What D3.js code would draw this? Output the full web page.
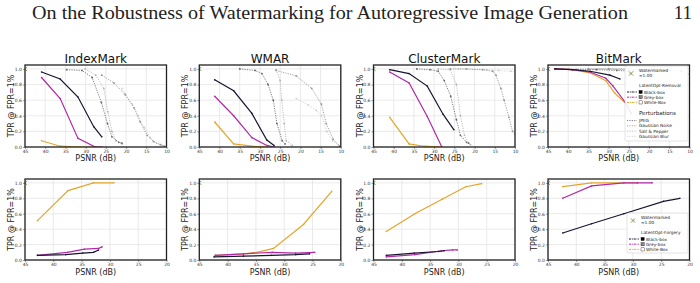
<!DOCTYPE html>
<html>
<head>
<meta charset="utf-8">
<script src="https://cdn.jsdelivr.net/npm/d3@7"></script>
<style>
  body { margin: 0; background: #fff; }
  text { font-family: "DejaVu Sans", sans-serif; }
</style>
</head>
<body>
<svg id="chart" width="700" height="283"></svg>
<script>
// ---- data ----
const titles = ['IndexMark', 'WMAR', 'ClusterMark', 'BitMark'];
const xTicksTop = [45, 40, 35, 30, 25, 20, 15, 10];
const xTicksBottom = [45, 40, 35, 30, 25, 20];
const yTicks = [0, 0.2, 0.4, 0.6, 0.8, 1.0];
const watermarked = [45, 1.0];

// LatentOpt-Removal (top row), [PSNR, TPR]
const removalBlack = [
  [[40.9, 0.96], [36.3, 0.87], [31.9, 0.64], [28.0, 0.26], [26.0, 0.13]],
  [[41.2, 0.86], [36.5, 0.72], [32.0, 0.43], [28.3, 0.09], [26.5, 0.02]],
  [[41.0, 0.99], [36.2, 0.94], [31.7, 0.78], [27.8, 0.42], [25.1, 0.22]],
  [[43.3, 1.0], [39.0, 0.99], [34.6, 0.97], [29.7, 0.92], [27.2, 0.87]]
];
const removalGrey = [
  [[40.9, 0.89], [36.3, 0.62], [31.9, 0.11], [27.6, 0.0], [26.0, 0.0]],
  [[41.2, 0.65], [36.5, 0.40], [32.0, 0.12], [28.3, 0.02], [26.5, 0.0]],
  [[41.0, 0.96], [36.2, 0.82], [31.7, 0.39], [28.1, 0.0]],
  [[43.3, 1.0], [39.0, 0.99], [34.6, 0.96], [30.7, 0.88], [28.9, 0.78], [26.0, 0.58], [24.4, 0.43]]
];
const removalWhite = [
  [[40.9, 0.08], [36.3, 0.01], [31.9, 0.0], [28.0, 0.0], [26.5, 0.0]],
  [[41.2, 0.32], [36.5, 0.04], [32.0, 0.01], [28.3, 0.0]],
  [[41.0, 0.38], [36.2, 0.04], [32.5, 0.01], [28.1, 0.0]],
  [[43.3, 1.0], [39.0, 0.99], [34.6, 0.95], [30.7, 0.85], [28.5, 0.69], [26.0, 0.57]]
];

// Perturbations (top row)
const pertJpeg = [
  [[34.7, 0.99], [30.9, 0.98], [28.4, 0.89], [26.1, 0.57], [24.6, 0.3], [23.5, 0.13], [21.8, 0.06], [21.0, 0.05]],
  [[35.0, 1.0], [31.2, 0.98], [29.5, 0.94], [28.0, 0.8], [26.7, 0.6], [25.8, 0.3], [24.5, 0.08], [23.8, 0.04]],
  [[34.3, 1.0], [31.0, 0.99], [29.0, 0.97], [27.5, 0.85], [25.9, 0.65], [24.5, 0.35], [23.5, 0.15], [22.0, 0.06], [21.5, 0.05]],
  [[43.0, 1.0], [38.0, 0.99], [33.0, 0.99], [28.0, 0.98], [24.0, 0.97], [20.0, 0.96]]
];
const pertNoise = [
  [[26.0, 0.92], [23.0, 0.82], [20.2, 0.67], [18.0, 0.5], [16.5, 0.32], [14.8, 0.15], [13.2, 0.07], [11.5, 0.03], [10.5, 0.01]],
  [[26.0, 0.98], [21.0, 0.91], [17.2, 0.75], [14.8, 0.55], [13.6, 0.3], [11.9, 0.1], [10.3, 0.01]],
  [[26.0, 1.0], [22.0, 1.0], [18.0, 0.99], [15.5, 0.97], [14.7, 0.92], [13.5, 0.75], [12.7, 0.6], [11.5, 0.38], [10.6, 0.2], [10.0, 0.17]],
  [[35.0, 1.0], [30.0, 1.0], [25.0, 0.99], [20.0, 0.99], [15.0, 0.98], [12.0, 0.97], [10.0, 0.93]]
];
const pertSalt = [
  [[30.1, 1.0], [27.5, 0.92], [25.5, 0.75], [24.5, 0.45], [23.5, 0.2], [22.5, 0.08], [21.0, 0.04]],
  [[26.0, 0.99], [25.0, 0.85], [24.6, 0.6], [24.0, 0.3], [23.5, 0.08], [22.0, 0.02]],
  [[29.0, 1.0], [26.0, 0.99], [24.5, 0.8], [23.5, 0.4], [22.5, 0.15], [21.5, 0.05], [21.0, 0.03]],
  [[40.0, 1.0], [35.0, 1.0], [30.0, 1.0], [25.0, 1.0], [20.0, 0.99], [15.0, 0.99]]
];
const pertBlur = [
  [[21.0, 0.75], [20.2, 0.68], [18.5, 0.55], [17.0, 0.4], [15.5, 0.25], [14.0, 0.12], [12.5, 0.05], [11.0, 0.02]],
  [[21.0, 0.62], [18.1, 0.54], [16.1, 0.47], [14.8, 0.4], [13.5, 0.2], [12.0, 0.08], [10.5, 0.02]],
  [[24.0, 1.0], [20.0, 0.99], [17.0, 0.99], [14.0, 0.98], [11.0, 0.97], [10.0, 0.96]],
  [[30.0, 1.0], [25.0, 1.0], [20.0, 1.0], [15.0, 0.99], [12.0, 0.98]]
];

// LatentOpt-Forgery (bottom row)
const forgeryBlack = [
  [[42.8, 0.06], [37.8, 0.07], [34.8, 0.09], [32.9, 0.10], [32.0, 0.13]],
  [[42.4, 0.04], [37.2, 0.05], [32.3, 0.06], [28.0, 0.07], [25.5, 0.08]],
  [[42.75, 0.06], [37.8, 0.09], [33.5, 0.11], [32.5, 0.12]],
  [[42.4, 0.35], [37.3, 0.47], [31.6, 0.60], [24.6, 0.76], [21.7, 0.80]]
];
const forgeryGrey = [
  [[42.8, 0.06], [37.5, 0.10], [34.5, 0.14], [32.0, 0.15], [31.4, 0.17]],
  [[42.2, 0.06], [37.2, 0.08], [32.1, 0.10], [28.0, 0.09], [24.6, 0.10]],
  [[42.75, 0.04], [37.7, 0.07], [33.0, 0.12], [31.0, 0.13], [30.2, 0.13]],
  [[42.4, 0.80], [37.3, 0.96], [31.6, 1.0], [29.2, 1.0], [26.6, 1.0]]
];
const forgeryWhite = [
  [[42.8, 0.51], [37.4, 0.90], [32.9, 1.0], [29.3, 1.0]],
  [[42.2, 0.06], [37.2, 0.08], [34.8, 0.10], [31.9, 0.15], [26.6, 0.46], [21.6, 0.89]],
  [[42.75, 0.37], [37.7, 0.60], [32.8, 0.79], [28.7, 0.95], [25.9, 0.99]],
  [[42.4, 0.95], [37.3, 1.0], [31.6, 1.0], [29.2, 1.0]]
];

// ---- styles ----
const cBlack = '#1a1530', cGrey = '#b02aa8', cWhite = '#e5a52a', cMark = '#6b8a2a';
const pertStyles = [
  { name: 'JPEG', color: '#666' },
  { name: 'Gaussian Noise', color: '#939393' },
  { name: 'Salt & Pepper', color: '#b5b5b5' },
  { name: 'Gaussian Blur', color: '#d0d0d0' }
];

const svg = d3.select('#chart');

// header
svg.append('text')
  .attr('x', 32).attr('y', 19)
  .attr('textLength', 596).attr('lengthAdjust', 'spacingAndGlyphs')
  .style('font-family', '"Liberation Serif", serif').style('font-size', '19px').style('fill', '#222')
  .text('On the Robustness of Watermarking for Autoregressive Image Generation');
svg.append('text')
  .attr('x', 692).attr('y', 19).attr('text-anchor', 'end')
  .style('font-family', '"Liberation Serif", serif').style('font-size', '19px').style('fill', '#222')
  .text('11');

const panelX = [25, 199.3, 373.5, 548];
const panelW = 141.5;
const rows = [
  { top: 65, bottom: 147, domain: [45, 10], ticks: xTicksTop, labelY: 161 },
  { top: 179, bottom: 260, domain: [45, 20], ticks: xTicksBottom, labelY: 275 }
];

function drawLine(g, x, y, pts, color, opts) {
  const line = d3.line().x(d => x(d[0])).y(d => y(d[1]));
  g.append('path').datum(pts)
    .attr('d', line).attr('fill', 'none')
    .attr('stroke', color).attr('stroke-width', opts.width)
    .attr('stroke-dasharray', opts.dash || null);
  g.selectAll(null).data(pts).enter().append('circle')
    .attr('cx', d => x(d[0])).attr('cy', d => y(d[1]))
    .attr('r', opts.r).attr('fill', color);
}

function xMark(g, cx, cy, s, color, w) {
  g.append('path')
    .attr('d', `M${cx - s},${cy - s}L${cx + s},${cy + s}M${cx - s},${cy + s}L${cx + s},${cy - s}`)
    .attr('stroke', color).attr('stroke-width', w).attr('fill', 'none');
}

rows.forEach((row, r) => {
  titles.forEach((title, i) => {
    const x = d3.scaleLinear().domain(row.domain).range([panelX[i], panelX[i] + panelW]);
    const y = d3.scaleLinear().domain([0, 1.05]).range([row.bottom, row.top]);
    const g = svg.append('g');
    const clipId = `clip-${r}-${i}`;
    svg.append('clipPath').attr('id', clipId).append('rect')
      .attr('x', panelX[i]).attr('y', row.top).attr('width', panelW).attr('height', row.bottom - row.top);

    // grid
    g.selectAll(null).data(row.ticks).enter().append('line')
      .attr('x1', d => x(d)).attr('x2', d => x(d))
      .attr('y1', row.top).attr('y2', row.bottom)
      .attr('stroke', '#e4e4e4').attr('stroke-width', 0.8);
    g.selectAll(null).data(yTicks).enter().append('line')
      .attr('x1', panelX[i]).attr('x2', panelX[i] + panelW)
      .attr('y1', d => y(d)).attr('y2', d => y(d))
      .attr('stroke', '#e4e4e4').attr('stroke-width', 0.8);

    const plot = g.append('g').attr('clip-path', `url(#${clipId})`);
    if (r === 0) {
      [pertBlur, pertSalt, pertNoise, pertJpeg].forEach((set, k) => {
        const st = pertStyles[3 - k];
        drawLine(plot, x, y, set[i], st.color, { width: 0.85, dash: '1.2,1.2', r: 0.9 });
      });
      drawLine(plot, x, y, removalWhite[i], cWhite, { width: 1.2, r: 0.8 });
      drawLine(plot, x, y, removalGrey[i], cGrey, { width: 1.2, r: 0.8 });
      drawLine(plot, x, y, removalBlack[i], cBlack, { width: 1.2, r: 0.8 });
    } else {
      drawLine(plot, x, y, forgeryWhite[i], cWhite, { width: 1.2, r: 0.8 });
      drawLine(plot, x, y, forgeryGrey[i], cGrey, { width: 1.2, r: 0.8 });
      drawLine(plot, x, y, forgeryBlack[i], cBlack, { width: 1.2, r: 0.8 });
    }
    xMark(plot, x(watermarked[0]), y(watermarked[1]), 2, cMark, 0.9);

    // axes
    const xa = g.append('g').attr('transform', `translate(0,${row.bottom})`)
      .call(d3.axisBottom(x).tickValues(row.ticks).tickSize(2).tickPadding(1).tickFormat(d3.format('d')));
    const ya = g.append('g').attr('transform', `translate(${panelX[i]},0)`)
      .call(d3.axisLeft(y).tickValues(yTicks).tickSize(2).tickPadding(1).tickFormat(d3.format('.1f')));
    [xa, ya].forEach(a => {
      a.select('.domain').remove();
      a.selectAll('line').attr('stroke', '#333').attr('stroke-width', 0.5);
      a.selectAll('text').style('font-size', '4.5px').style('fill', '#333').style('font-family', '"DejaVu Sans", sans-serif');
    });

    // frame
    g.append('rect')
      .attr('x', panelX[i]).attr('y', row.top).attr('width', panelW).attr('height', row.bottom - row.top)
      .attr('fill', 'none').attr('stroke', '#222').attr('stroke-width', 1.3);

    // labels
    if (r === 0) {
      g.append('text').attr('x', panelX[i] + panelW / 2).attr('y', 62.5)
        .attr('text-anchor', 'middle').style('font-size', '12px').style('fill', '#111').text(title);
    }
    g.append('text').attr('x', panelX[i] + panelW / 2).attr('y', row.labelY)
      .attr('text-anchor', 'middle').style('font-size', '8px').style('fill', '#222').text('PSNR (dB)');
    g.append('text')
      .attr('transform', `translate(${panelX[i] - 11},${(row.top + row.bottom) / 2}) rotate(-90)`)
      .attr('text-anchor', 'middle').style('font-size', '8px').style('fill', '#222').text('TPR @ FPR=1%');
  });
});

// legends (BitMark panels)
function legend(x0, y0, w, h, groupTitle, withPert) {
  const g = svg.append('g');
  g.append('rect').attr('x', x0).attr('y', y0).attr('width', w).attr('height', h)
    .attr('rx', 1.5).attr('fill', '#fff').attr('fill-opacity', 0.88)
    .attr('stroke', '#d0d0d0').attr('stroke-width', 0.6);
  const fs = '4.3px';
  xMark(g, x0 + 6, y0 + 7.5, 2, cMark, 0.9);
  g.append('text').attr('x', x0 + 14).attr('y', y0 + 6).style('font-size', fs).style('fill', '#222').text('Watermarked');
  g.append('text').attr('x', x0 + 14).attr('y', y0 + 10.5).style('font-size', fs).style('fill', '#222').text('=1.00');
  g.append('text').attr('x', x0 + 14).attr('y', y0 + 21).style('font-size', fs).style('fill', '#222').text(groupTitle);
  const items = [
    { name: 'Black-box', color: cBlack, fill: '#000' },
    { name: 'Grey-box', color: cGrey, fill: '#888' },
    { name: 'White-Box', color: cWhite, fill: '#fff' }
  ];
  items.forEach((it, k) => {
    const yy = y0 + 26 + k * 5.2;
    g.append('line').attr('x1', x0 + 2).attr('x2', x0 + 12).attr('y1', yy).attr('y2', yy)
      .attr('stroke', it.color).attr('stroke-width', 1).attr('stroke-dasharray', '2.2,0.8,0.8,0.8');
    g.append('rect').attr('x', x0 + 14).attr('y', yy - 1.6).attr('width', 3.2).attr('height', 3.2)
      .attr('fill', it.fill).attr('stroke', '#222').attr('stroke-width', 0.4);
    g.append('text').attr('x', x0 + 19).attr('y', yy + 1.5).style('font-size', fs).style('fill', '#222').text(it.name);
  });
  if (withPert) {
    g.append('text').attr('x', x0 + 14).attr('y', y0 + 49).style('font-size', '5.5px').style('fill', '#222').text('Perturbations');
    pertStyles.forEach((st, k) => {
      const yy = y0 + 54.5 + k * 5.3;
      g.append('line').attr('x1', x0 + 2).attr('x2', x0 + 12).attr('y1', yy).attr('y2', yy)
        .attr('stroke', st.color).attr('stroke-width', 0.8).attr('stroke-dasharray', '1.2,1.2');
      g.append('text').attr('x', x0 + 14).attr('y', yy + 1.5).style('font-size', fs).style('fill', '#222').text(st.name);
    });
  }
}
legend(625, 66, 63, 75, 'LatentOpt-Removal', true);
legend(627, 213, 61, 40, 'LatentOpt-Forgery', false);
</script>
</body>
</html>
